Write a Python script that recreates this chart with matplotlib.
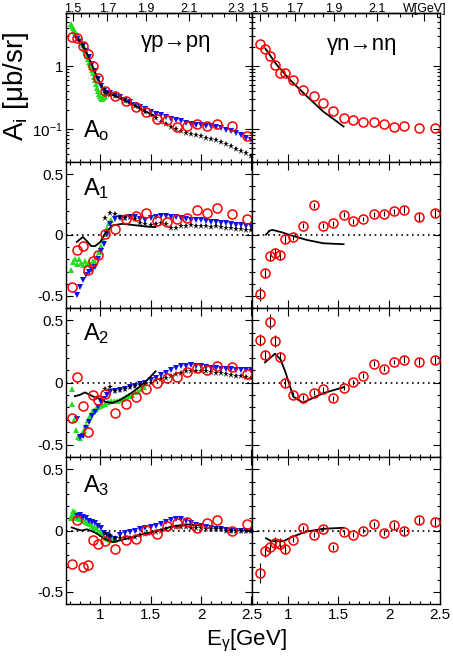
import numpy as np
import matplotlib
matplotlib.use('Agg')
import matplotlib.pyplot as plt
from matplotlib.ticker import FixedLocator, FixedFormatter, MultipleLocator, NullFormatter, LogLocator

plt.rcParams['font.family'] = ['Liberation Sans', 'DejaVu Sans']
plt.rcParams['mathtext.fontset'] = 'custom'
plt.rcParams['mathtext.rm'] = 'Liberation Sans'
plt.rcParams['mathtext.default'] = 'regular'
plt.rcParams['axes.linewidth'] = 1.0
plt.rcParams['axes.unicode_minus'] = False

M_P = 0.938
M_N = 0.9396

# ---- gamma p -> p eta (left column) ----
red_E_L = [0.722, 0.772, 0.83, 0.88, 0.935, 0.98, 1.052, 1.148, 1.257, 1.356, 1.455, 1.56, 1.66,
           1.76, 1.858, 1.957, 2.056, 2.155, 2.31, 2.452]
red0_L = [2.87, 2.77, 2.1, 1.55, 1.0, 0.65, 0.41, 0.335, 0.28, 0.225, 0.185, 0.147, 0.139, 0.109,
          0.113, 0.121, 0.113, 0.122, 0.110, 0.0785]
red1_L = [-0.427, -0.122, -0.089, -0.284, -0.216, -0.162, 0.008, 0.046, 0.135, 0.154, 0.181, 0.116,
          0.108, 0.135, 0.143, 0.208, 0.181, 0.224, 0.176, 0.135]
red2_L = [-0.284, 0.048, -0.192, -0.396, -0.098, -0.143, -0.094, -0.245, -0.176, -0.119, -0.055, 0.0,
          0.035, 0.043, 0.081, 0.116, 0.097, 0.135, 0.122, 0.07]
red3_L = [-0.277, 0.083, -0.30, -0.284, -0.079, -0.108, -0.088, -0.153, -0.077, -0.068, 0.005, -0.027,
          0.033, 0.06, 0.068, 0.022, 0.06, 0.082, 0.0, 0.049]

green0_E = [0.71, 0.72, 0.73, 0.74, 0.75, 0.76, 0.77, 0.78, 0.79, 0.80, 0.81, 0.82, 0.83, 0.84, 0.85,
            0.86, 0.87, 0.88, 0.89, 0.90, 0.91, 0.92, 0.93, 0.94, 0.95, 0.96, 0.97, 0.98, 0.99, 1.00,
            1.01, 1.02, 1.03, 1.04, 1.05]
green0 = [4.7, 4.4, 4.1, 3.8, 3.5, 3.3, 3.1, 2.95, 2.8, 2.65, 2.5, 2.35, 2.2, 2.0, 1.8, 1.6, 1.45,
          1.3, 1.18, 1.07, 0.97, 0.87, 0.77, 0.68, 0.6, 0.52, 0.45, 0.4, 0.36, 0.33, 0.31, 0.3,
          0.31, 0.32, 0.33]
green1_E = [0.71, 0.73, 0.75, 0.77, 0.79, 0.81, 0.83, 0.85, 0.87, 0.89, 0.91, 0.93, 0.95, 0.97,
            0.99, 1.01, 1.03, 1.05, 1.07, 1.09, 1.11]
green1 = [-0.29, -0.22, -0.20, -0.24, -0.20, -0.23, -0.25, -0.21, -0.24, -0.22, -0.25, -0.21, -0.22,
          -0.18, -0.14, -0.09, -0.04, 0.01, 0.06, 0.10, 0.12]
green2_E = [0.72, 0.72, 0.74, 0.76, 0.78, 0.80, 0.82, 0.84, 0.86, 0.88, 0.90, 0.92, 0.94, 0.96,
            0.98, 1.00, 1.02, 1.05, 1.08, 1.11, 1.14, 1.17, 1.20, 1.23, 1.26, 1.29, 1.32, 1.35,
            1.38, 1.41, 1.44]
green2 = [-0.05, -0.17, -0.30, -0.38, -0.44, -0.45, -0.42, -0.38, -0.34, -0.30, -0.27, -0.24, -0.22,
          -0.21, -0.20, -0.19, -0.18, -0.17, -0.16, -0.15, -0.15, -0.15, -0.14, -0.13, -0.12, -0.11,
          -0.10, -0.08, -0.07, -0.05, -0.04]
green3_E = [0.71, 0.72, 0.73, 0.74, 0.75, 0.76, 0.78, 0.80, 0.82, 0.84, 0.86, 0.88, 0.90, 0.92,
            0.94, 0.96, 0.98, 1.00, 1.02, 1.04, 1.06, 1.08, 1.10, 1.12, 1.14]
green3 = [0.10, 0.13, 0.16, 0.12, 0.15, 0.10, 0.12, 0.09, 0.10, 0.08, 0.07, 0.06, 0.05, 0.04, 0.03,
          0.02, 0.00, -0.01, -0.03, -0.05, -0.06, -0.07, -0.08, -0.08, -0.08]

blue_E = [0.77, 0.80, 0.83, 0.86, 0.89, 0.92, 0.95, 0.98, 1.01, 1.04, 1.07, 1.10, 1.15, 1.20, 1.25,
          1.30, 1.35, 1.40, 1.45, 1.50, 1.55, 1.60, 1.65, 1.70, 1.75, 1.80, 1.85, 1.90, 1.95, 2.00,
          2.05, 2.10, 2.15, 2.20, 2.25, 2.30, 2.35, 2.40, 2.45, 2.50]
blue0 = [2.7, 2.4, 2.1, 1.75, 1.4, 1.1, 0.85, 0.62, 0.48, 0.41, 0.38, 0.37, 0.345, 0.32, 0.295, 0.27,
         0.245, 0.225, 0.205, 0.19, 0.175, 0.165, 0.155, 0.147, 0.14, 0.133, 0.127, 0.122, 0.118,
         0.115, 0.112, 0.11, 0.107, 0.103, 0.098, 0.093, 0.087, 0.08, 0.073, 0.067]
blue1 = [-0.49, -0.43, -0.37, -0.33, -0.30, -0.29, -0.26, -0.20, -0.13, -0.07, 0.01, 0.09, 0.13, 0.14,
         0.14, 0.15, 0.15, 0.13, 0.12, 0.14, 0.15, 0.16, 0.16, 0.15, 0.15, 0.14, 0.13, 0.125, 0.12,
         0.12, 0.115, 0.11, 0.105, 0.10, 0.095, 0.09, 0.085, 0.08, 0.075, 0.07]
blue2 = [-0.29, -0.44, -0.43, -0.37, -0.32, -0.27, -0.24, -0.20, -0.16, -0.13, -0.10, -0.08, -0.07,
         -0.06, -0.05, -0.04, -0.03, -0.01, 0.0, 0.02, 0.04, 0.06, 0.08, 0.10, 0.12, 0.13, 0.135, 0.14,
         0.135, 0.13, 0.125, 0.12, 0.115, 0.11, 0.11, 0.105, 0.10, 0.10, 0.10, 0.10]
blue3 = [0.12, 0.13, 0.11, 0.10, 0.08, 0.07, 0.06, 0.04, 0.02, -0.02, -0.04, -0.06, -0.07, -0.04,
         -0.02, -0.01, 0.0, 0.01, 0.02, 0.03, 0.04, 0.05, 0.07, 0.085, 0.095, 0.09, 0.075, 0.06, 0.045,
         0.035, 0.025, 0.02, 0.015, 0.01, 0.005, 0.0, 0.0, 0.0, 0.0, 0.0]

star_E = [1.05, 1.10, 1.15, 1.20, 1.25, 1.30, 1.35, 1.40, 1.45, 1.50, 1.55, 1.60, 1.65, 1.70, 1.75,
          1.80, 1.85, 1.90, 1.95, 2.00, 2.05, 2.10, 2.15, 2.20, 2.25, 2.30, 2.35, 2.40, 2.45, 2.50]
star0 = [0.38, 0.35, 0.33, 0.31, 0.28, 0.25, 0.23, 0.205, 0.185, 0.165, 0.148, 0.132, 0.12, 0.108,
         0.1, 0.093, 0.088, 0.084, 0.08, 0.077, 0.073, 0.07, 0.066, 0.062, 0.058, 0.053, 0.049,
         0.045, 0.041, 0.038]
star1 = [0.14, 0.18, 0.17, 0.15, 0.14, 0.15, 0.13, 0.10, 0.09, 0.08, 0.09, 0.10, 0.09, 0.06, 0.055,
         0.07, 0.075, 0.08, 0.075, 0.07, 0.07, 0.065, 0.07, 0.065, 0.06, 0.055, 0.05, 0.05, 0.045, 0.04]
star2 = [-0.05, -0.04, -0.07, -0.06, -0.05, -0.04, -0.03, -0.02, -0.01, 0.0, 0.02, 0.03, 0.04, 0.055,
         0.07, 0.08, 0.09, 0.095, 0.095, 0.09, 0.09, 0.085, 0.08, 0.075, 0.07, 0.06, 0.055, 0.05,
         0.045, 0.04]
star3 = [-0.02, -0.04, -0.06, -0.06, -0.05, -0.06, -0.05, -0.04, -0.03, -0.02, -0.01, 0.0, 0.01, 0.02,
         0.03, 0.03, 0.03, 0.02, 0.02, 0.02, 0.015, 0.01, 0.01, 0.01, 0.0, 0.0, 0.0, 0.0, 0.0, 0.0]

lineL0_E = [0.77, 0.82, 0.87, 0.92, 0.97, 1.02, 1.07, 1.12, 1.2, 1.3, 1.4, 1.5, 1.55]
lineL0 = [2.8, 2.3, 1.6, 1.05, 0.68, 0.47, 0.39, 0.35, 0.31, 0.26, 0.21, 0.175, 0.16]
lineL1_E = [0.77, 0.83, 0.87, 0.91, 0.95, 1.0, 1.05, 1.12, 1.22, 1.35, 1.45, 1.55]
lineL1 = [-0.057, -0.016, -0.05, -0.09, -0.092, -0.06, 0.01, 0.078, 0.092, 0.08, 0.07, 0.065]
lineL2_E = [0.75, 0.80, 0.85, 0.90, 0.95, 1.0, 1.05, 1.12, 1.2, 1.3, 1.4, 1.48, 1.55]
lineL2 = [-0.11, -0.10, -0.08, -0.10, -0.12, -0.13, -0.155, -0.165, -0.14, -0.09, -0.03, 0.03, 0.09]
lineL3_E = [0.72, 0.77, 0.82, 0.87, 0.95, 1.05, 1.13, 1.25, 1.4, 1.55, 1.7, 1.85, 2.0]
lineL3 = [0.025, 0.01, 0.0, 0.01, -0.016, -0.07, -0.095, -0.07, -0.035, -0.005, 0.03, 0.05, 0.04]

# ---- gamma n -> n eta (right column) ----
red_E_R = [0.727, 0.772, 0.824, 0.872, 0.928, 0.978, 1.05, 1.15, 1.255, 1.35, 1.45, 1.55, 1.647,
           1.746, 1.845, 1.95, 2.043, 2.142, 2.298, 2.453]
red0_R = [2.22, 1.85, 1.44, 1.03, 0.765, 0.765, 0.614, 0.414, 0.332, 0.261, 0.191, 0.150, 0.141,
          0.128, 0.128, 0.122, 0.108, 0.113, 0.106, 0.106]
red1_R = [-0.486, -0.316, -0.176, -0.149, -0.168, -0.032, -0.019, 0.078, 0.243, 0.076, 0.095, 0.165,
          0.114, 0.132, 0.170, 0.176, 0.195, 0.208, 0.149, 0.181]
red2_R = [0.341, 0.224, 0.489, 0.332, 0.205, -0.005, -0.1, -0.122, -0.081, -0.054, -0.127, -0.041,
          0.003, 0.054, 0.151, 0.111, 0.165, 0.184, 0.168, 0.181]
red3_R = [-0.347, -0.169, -0.131, -0.104, -0.109, -0.15, -0.077, 0.019, -0.033, 0.014, -0.137, -0.016,
          -0.036, 0.0, 0.049, -0.019, 0.041, -0.008, 0.082, 0.068]
err1_R = [0.06, 0.04, 0.04, 0.04, 0.04, 0.03, 0.02, 0.02, 0.02, 0.02, 0.02, 0.02, 0.02, 0.02, 0.02,
          0.02, 0.02, 0.03, 0.03, 0.03]
err2_R = [0.05, 0.04, 0.06, 0.05, 0.04, 0.03, 0.02, 0.02, 0.02, 0.02, 0.02, 0.02, 0.02, 0.02, 0.02,
          0.02, 0.02, 0.03, 0.03, 0.03]
err3_R = [0.08, 0.05, 0.05, 0.05, 0.05, 0.04, 0.02, 0.02, 0.02, 0.02, 0.02, 0.02, 0.02, 0.02, 0.02,
          0.02, 0.03, 0.04, 0.03, 0.03]

lineR0_E = [0.78, 0.89, 1.02, 1.19, 1.35, 1.55]
lineR0 = [1.9, 1.06, 0.61, 0.33, 0.19, 0.11]
lineR1_E = [0.786, 0.82, 0.845, 0.87, 0.95, 1.02, 1.19, 1.35, 1.55]
lineR1 = [0.003, 0.035, 0.041, 0.038, 0.02, 0.0, -0.041, -0.068, -0.076]
lineR2_E = [0.776, 0.875, 0.93, 0.975, 1.055, 1.15, 1.35, 1.55]
lineR2 = [0.162, 0.232, 0.184, 0.089, -0.114, -0.162, -0.086, -0.038]
lineR3_E = [0.786, 0.84, 0.96, 1.05, 1.19, 1.35, 1.55]
lineR3 = [-0.063, -0.087, -0.087, -0.049, -0.008, 0.014, 0.022]

panel_names = ['$A_{o}$', '$A_{1}$', '$A_{2}$', '$A_{3}$']
w_ticks = [1.5, 1.7, 1.9, 2.1, 2.3]

left_sets = [
    (green0_E, green0, blue0, star0, lineL0_E, lineL0, red0_L),
    (green1_E, green1, blue1, star1, lineL1_E, lineL1, red1_L),
    (green2_E, green2, blue2, star2, lineL2_E, lineL2, red2_L),
    (green3_E, green3, blue3, star3, lineL3_E, lineL3, red3_L),
]
right_sets = [
    (lineR0_E, lineR0, red0_R, None),
    (lineR1_E, lineR1, red1_R, err1_R),
    (lineR2_E, lineR2, red2_R, err2_R),
    (lineR3_E, lineR3, red3_R, err3_R),
]


def e2w(m):
    return lambda e: np.sqrt(np.maximum(m * m + 2 * m * np.asarray(e, float), 1e-6))


def w2e(m):
    return lambda w: (np.asarray(w, float) ** 2 - m * m) / (2 * m)


fig = plt.figure(figsize=(4.53, 6.56), dpi=100)
FW, FH = 453., 656.
cols = [(66, 252), (252, 440)]
rows = [(13, 162), (162, 308), (308, 457), (457, 604)]
xlims = [(0.663, 2.505), (0.648, 2.50)]
label_y = [0.168, 0.774, 0.785, 0.762]

for r, (top, bot) in enumerate(rows):
    for c, (lft, rgt) in enumerate(cols):
        ax = fig.add_axes([lft / FW, 1 - bot / FH, (rgt - lft) / FW, (bot - top) / FH])
        ax.set_xlim(*xlims[c])
        if r == 0:
            ax.set_yscale('log')
            ax.set_ylim(0.03, 7)
            ax.yaxis.set_major_locator(FixedLocator([0.1, 1]))
            ax.yaxis.set_major_formatter(FixedFormatter(['10$^{-1}$', '1']))
            ax.yaxis.set_minor_locator(LogLocator(base=10, subs=np.arange(2, 10)))
            ax.yaxis.set_minor_formatter(NullFormatter())
        else:
            ax.set_ylim(-0.6, 0.6)
            ax.yaxis.set_major_locator(FixedLocator([-0.5, 0, 0.5]))
            ax.yaxis.set_major_formatter(FixedFormatter(['-0.5', '0', '0.5']))
            ax.yaxis.set_minor_locator(MultipleLocator(0.1))
            ax.axhline(0, color='black', ls=(0, (1, 2.2)), lw=1.2, zorder=1)
        ax.xaxis.set_major_locator(FixedLocator([1, 1.5, 2, 2.5]))
        ax.xaxis.set_major_formatter(FixedFormatter(['1', '1.5', '2', '2.5']))
        ax.xaxis.set_minor_locator(MultipleLocator(0.1))
        ax.tick_params(which='both', direction='in', top=(r != 0), right=True,
                       labelsize=11, labelbottom=(r == 3), labelleft=(c == 0))
        ax.tick_params(which='major', length=5, width=0.8)
        ax.tick_params(which='minor', length=2.5, width=0.8)
        ax.tick_params(axis='y', which='major', pad=2)
        ax.tick_params(axis='x', which='major', length=6, pad=3)

        if r == 0:
            m = M_P if c == 0 else M_N
            sec = ax.secondary_xaxis('top', functions=(e2w(m), w2e(m)))
            sec.xaxis.set_major_locator(FixedLocator(w_ticks))
            if c == 0:
                sec.xaxis.set_major_formatter(FixedFormatter(['1.5', '1.7', '1.9', '2.1', '2.3']))
            else:
                sec.xaxis.set_major_formatter(FixedFormatter(['1.5', '1.7', '1.9', '2.1', 'W[GeV]']))
            sec.xaxis.set_minor_locator(MultipleLocator(0.05))
            sec.tick_params(which='both', direction='in', labelsize=9, pad=-1.2)
            sec.tick_params(which='major', length=6, width=0.8)
            sec.tick_params(which='minor', length=3, width=0.8)

        if c == 0:
            gE, gV, bV, sV, lE, lV, rV = left_sets[r]
            ax.plot(gE, gV, '^', color='#22dd22', ms=4.5, mew=0, zorder=2)
            ax.plot(blue_E, bV, 'v', color='#1010ee', ms=4.5, mew=0, zorder=3)
            ax.plot(star_E, sV, '*', color='black', ms=4.5, mew=0, zorder=4)
            ax.plot(lE, lV, '-', color='black', lw=1.3, zorder=5)
            ax.plot(red_E_L, rV, 'o', mfc='none', mec='red', ms=6.5, mew=1.1, zorder=6)
            ax.text(0.091, label_y[r], panel_names[r], transform=ax.transAxes,
                    fontsize=17, va='baseline', ha='left')
        else:
            lE, lV, rV, eV = right_sets[r]
            ax.plot(lE, lV, '-', color='black', lw=1.3, zorder=5)
            ax.errorbar(red_E_R, rV, yerr=eV, fmt='o', mfc='none', mec='red', ms=6.5, mew=1.1,
                        ecolor='black', elinewidth=0.8, capsize=0, zorder=6)

        if r == 0 and c == 0:
            ax.text(0.59, 0.772, 'γp→pη', transform=ax.transAxes, fontsize=16,
                    ha='center', va='baseline')
        if r == 0 and c == 1:
            ax.text(0.585, 0.75, 'γn→nη', transform=ax.transAxes, fontsize=16,
                    ha='center', va='baseline')

fig.text(16 / FW, 1 - 86 / FH, 'A$_{i}$ [μb/sr]', rotation=90, fontsize=20,
         ha='center', va='center')
fig.text(246 / FW, 1 - 645 / FH, 'E$_{γ}$[GeV]', fontsize=16, ha='center', va='baseline')

fig.savefig('out.png', dpi=100)
